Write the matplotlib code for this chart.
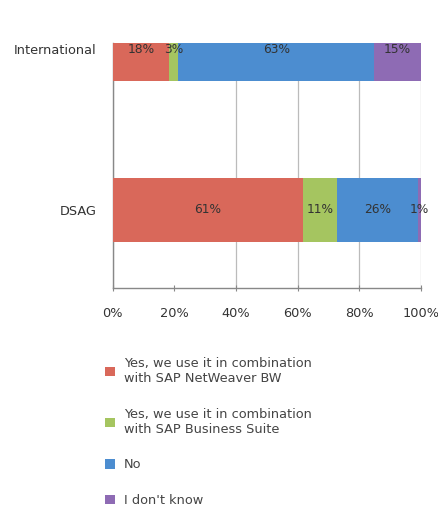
"""Stacked horizontal bar chart: usage of the tool, International vs DSAG."""

import numpy as np
import matplotlib
matplotlib.use("Agg")
import matplotlib.pyplot as plt

# Data
groups = ["DSAG", "International"]
series_names = [
    "Yes, we use it in combination\nwith SAP NetWeaver BW",
    "Yes, we use it in combination\nwith SAP Business Suite",
    "No",
    "I don't know",
]
yes_bw = [61, 18]
yes_suite = [11, 3]
no = [26, 63]
dont_know = [1, 15]
tick_values = [0, 20, 40, 60, 80, 100]
tick_labels = ["0%", "20%", "40%", "60%", "80%", "100%"]

colors = ["#D9685A", "#A5C560", "#4C8DD0", "#8E6BB4"]

plt.rcParams["font.family"] = ["DejaVu Sans"]
fs = 9.3

fig = plt.figure(figsize=(4.39, 5.18), dpi=100)
ax = fig.add_axes([0.257, 0.444, 0.702, 0.473])

# 100% stacked: the rounded answers do not add to exactly 100, so we rescale
all_series = [yes_bw, yes_suite, no, dont_know]
totals = np.sum(np.array(all_series, dtype=float), axis=0)

y = np.arange(len(groups))
left = np.zeros(len(groups))
bars = []
for name, vals, col in zip(series_names, all_series, colors):
    vals = np.array(vals, dtype=float)
    widths = vals / totals * 100
    b = ax.barh(y, widths, left=left, height=0.4, color=col, label=name, zorder=3)
    bars.append(b)
    # We put the value in the middle of each segment
    for yi, l, w, v in zip(y, left, widths, vals):
        ax.text(l + w / 2, yi, f"{int(v)}%", ha="center", va="center",
                fontsize=8.8, color="#333333", zorder=4)
    left = left + widths

ax.set_xlim(0, 100)
ax.set_ylim(-0.49, 1.04)
ax.set_xticks(tick_values)
ax.set_xticklabels(tick_labels, fontsize=fs, color="#333333")
ax.set_yticks(y)
ax.set_yticklabels(groups, fontsize=fs, color="#333333")
ax.tick_params(axis="y", length=0, pad=12)
ax.tick_params(axis="x", direction="inout", length=5, color="#888888", pad=11)

ax.xaxis.grid(True, color="#BBBBBB", linewidth=0.9, zorder=0)
# the 20% line does not show in the original
ax.get_xgridlines()[1].set_visible(False)
for s in ["top", "right"]:
    ax.spines[s].set_visible(False)
for s in ["left", "bottom"]:
    ax.spines[s].set_color("#888888")
    ax.spines[s].set_linewidth(1.0)

fig.legend(handles=bars, labels=series_names, loc="upper left",
           bbox_to_anchor=(100 / 439, 1 - 352 / 518), borderaxespad=0,
           frameon=False, fontsize=fs,
           handlelength=0.75, handleheight=0.75, handletextpad=0.7,
           labelspacing=1.75, labelcolor="#444444")

fig.savefig("out.png", dpi=100)
